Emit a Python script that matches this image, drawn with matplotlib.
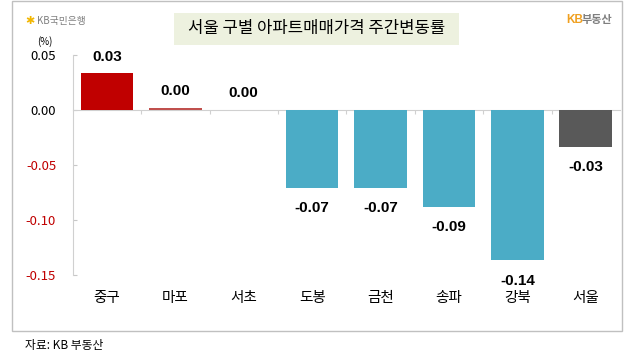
import matplotlib
matplotlib.use("Agg")
import matplotlib.pyplot as plt
from matplotlib.patches import Rectangle
from matplotlib.transforms import blended_transform_factory

categories = ["중구", "마포", "서초", "도봉", "금천", "송파", "강북", "서울"]
values = [0.0334, 0.0015, 0.0, -0.0712, -0.0712, -0.0885, -0.1367, -0.0333]
labels = ["0.03", "0.00", "0.00", "-0.07", "-0.07", "-0.09", "-0.14", "-0.03"]
colors = ["#c00000", "#c0504d", "#c00000", "#4bacc6", "#4bacc6", "#4bacc6", "#4bacc6", "#595959"]
yticks = [0.05, 0.00, -0.05, -0.10, -0.15]
ytick_labels = ["0.05", "0.00", "-0.05", "-0.10", "-0.15"]

KR = ["Noto Sans CJK KR", "DejaVu Sans"]
NUM = ["Liberation Sans", "Noto Sans CJK KR"]

W, H = 634, 359
fig = plt.figure(figsize=(W / 100, H / 100), dpi=100)
fig.patch.set_facecolor("white")

def fx(px):
    return px / W

def fy(py):
    return 1 - py / H

# outer frame
fig.patches.append(Rectangle((fx(12), fy(331)), fx(622) - fx(12), fy(1) - fy(331),
                             transform=fig.transFigure, fill=False, edgecolor="#c0c0c0", lw=1))

ax = fig.add_axes([fx(72.7), fy(275), fx(620) - fx(72.7), fy(55) - fy(275)])
x = list(range(len(categories)))
ax.bar(x, values, width=0.77, color=colors, zorder=3)
ax.set_xlim(-0.5, len(categories) - 0.5)
ax.set_ylim(-0.15, 0.05)

ax.set_yticks(yticks)
ax.set_yticklabels(ytick_labels, fontfamily=KR, fontsize=9.5)
for t, v in zip(ax.get_yticklabels(), yticks):
    t.set_color("#c00000" if v < 0 else "black")
ax.tick_params(axis="y", direction="in", length=3, color="#c8c8c8", pad=12)

for s in ["top", "right"]:
    ax.spines[s].set_visible(False)
ax.spines["left"].set_color("#d0d0d0")
ax.spines["bottom"].set_position(("data", 0))
ax.spines["bottom"].set_color("#d0d0d0")
ax.set_xticks([i + 0.5 for i in x[:-1]])
ax.set_xticklabels([])
ax.tick_params(axis="x", direction="out", length=3, color="#d0d0d0")

trans = blended_transform_factory(ax.transData, ax.transAxes)
for i, c in enumerate(categories):
    ax.text(i, -0.105, c, transform=trans, ha="center", va="center",
            fontfamily=KR, fontsize=10.5, color="black")

for i, (v, lab) in enumerate(zip(values, labels)):
    if v >= 0:
        off = 11.5 if v > 0.01 else 12.5
        ax.annotate(lab, (i, v), xytext=(0, off), textcoords="offset points",
                    ha="center", va="center", fontsize=11, fontweight="bold", fontfamily=NUM)
    else:
        ax.annotate(lab, (i, v), xytext=(0, -14.5), textcoords="offset points",
                    ha="center", va="center", fontsize=11, fontweight="bold", fontfamily=NUM)

# (%)
fig.text(fx(45), fy(42), "(%)", ha="center", va="center", fontsize=7, fontfamily=KR)

# title box
fig.patches.append(Rectangle((fx(174), fy(45)), fx(459) - fx(174), fy(13) - fy(45),
                             transform=fig.transFigure, facecolor="#edf1df", edgecolor="none"))
fig.text(fx(316.5), fy(29), "서울 구별 아파트매매가격 주간변동률", ha="center", va="center",
         fontsize=12, fontfamily=KR, color="black")

# logos
fig.text(fx(25), fy(21), "✱", ha="left", va="center", fontsize=8, color="#f2b600",
         fontfamily=["DejaVu Sans"])
fig.text(fx(37), fy(21), "KB국민은행", ha="left", va="center", fontsize=7, color="#7f7f7f",
         fontfamily=KR)
fig.text(fx(566), fy(20), "KB", ha="left", va="center", fontsize=8.5, color="#f0a020",
         fontweight="bold", fontfamily=NUM)
fig.text(fx(582), fy(20), "부동산", ha="left", va="center", fontsize=8, color="#7f7f7f",
         fontweight="bold", fontfamily=KR)

# source
fig.text(fx(25), fy(346), "자료: KB 부동산", ha="left", va="center", fontsize=8.5,
         fontfamily=KR, color="black")

fig.savefig("out.png", dpi=100)
